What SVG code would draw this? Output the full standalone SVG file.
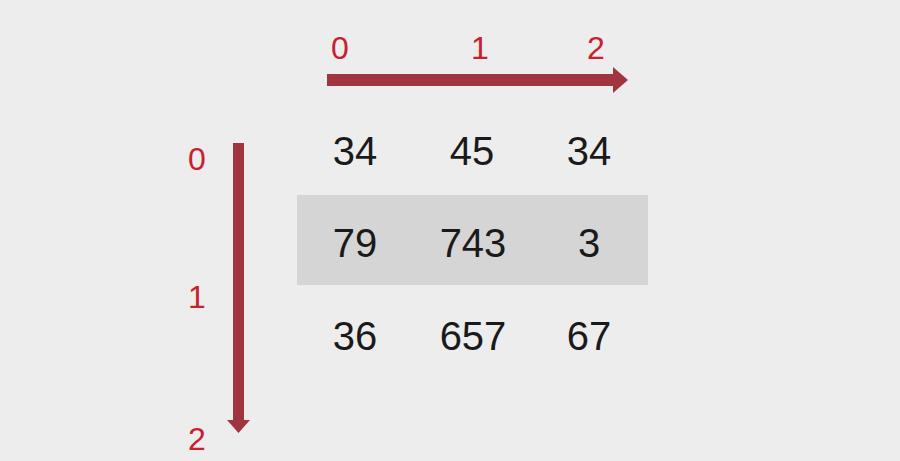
<svg xmlns="http://www.w3.org/2000/svg" width="900" height="461" viewBox="0 0 900 461">
<style>
.idx{font-family:"Liberation Sans",Arial,sans-serif;font-size:32px;fill:#c8202c;text-anchor:middle}
.num{font-family:"Liberation Sans",Arial,sans-serif;font-size:40px;fill:#1a1a1a;text-anchor:middle}
.arr{fill:#a0343f}
</style>
<rect width="900" height="461" fill="#ededed"/>
<g id="highlight-row">
<rect x="297" y="195" width="351" height="90" fill="#d5d5d5"/>
</g>
<g id="connectors">
<path class="arr" d="M327,74 L613,74 L613,67 L628,80 L613,93 L613,86 L327,86 Z"/>
<path class="arr" d="M233,143 L244,143 L244,420 L250,420 L238.5,433 L227,420 L233,420 Z"/>
</g>
<g id="col-labels">
<text class="idx" x="340" y="59">0</text>
<text class="idx" x="480" y="59">1</text>
<text class="idx" x="596" y="59">2</text>
</g>
<g id="row-labels">
<text class="idx" x="197" y="170">0</text>
<text class="idx" x="197" y="308">1</text>
<text class="idx" x="197" y="450">2</text>
</g>
<g id="row0">
<text class="num" x="355" y="165">34</text>
<text class="num" x="472" y="165">45</text>
<text class="num" x="589" y="165">34</text>
</g>
<g id="row1">
<text class="num" x="355" y="257">79</text>
<text class="num" x="473" y="257">743</text>
<text class="num" x="589" y="257">3</text>
</g>
<g id="row2">
<text class="num" x="355" y="350">36</text>
<text class="num" x="473" y="350">657</text>
<text class="num" x="589" y="350">67</text>
</g>
</svg>
